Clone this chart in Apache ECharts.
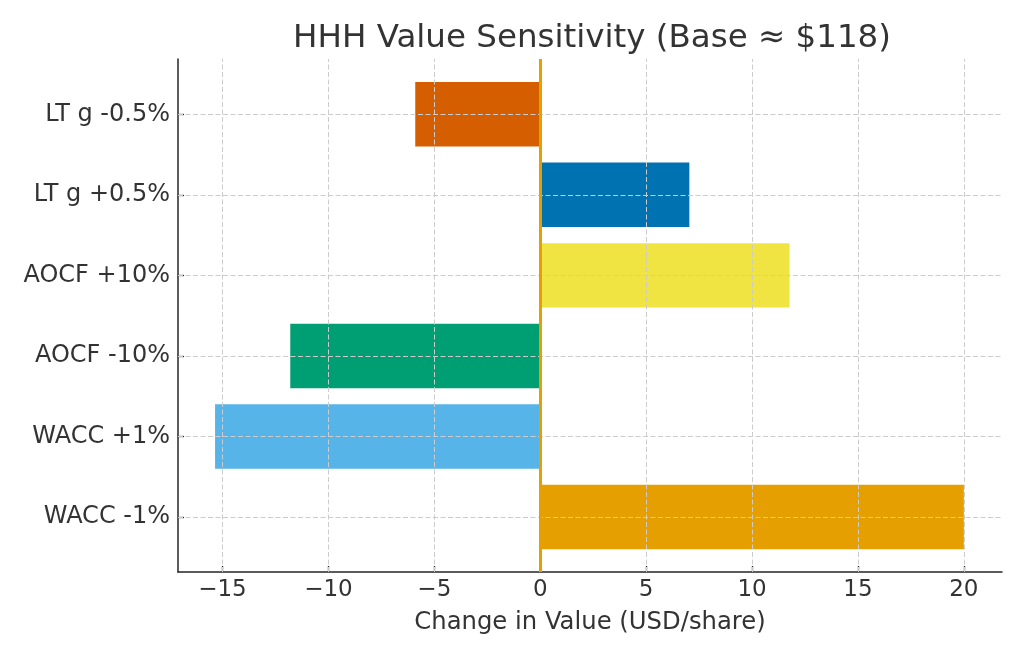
<!DOCTYPE html>
<html>
<head>
<meta charset="utf-8">
<script src="https://cdn.jsdelivr.net/npm/echarts@6/dist/echarts.min.js"></script>
<style>html,body{margin:0;padding:0;background:#fff}#c{width:1024px;height:658px}</style>
</head>
<body>
<div id="c"></div>
<script>
// Data (bottom to top, as drawn)
const categories = ['WACC -1%', 'WACC +1%', 'AOCF -10%', 'AOCF +10%', 'LT g +0.5%', 'LT g -0.5%'];
const changes = [20.0, -15.35, -11.8, 11.77, 7.04, -5.9];
const barColors = ['#E69F00', '#56B4E9', '#009E73', '#F0E442', '#0072B2', '#D55E00'];
const xTicks = [-15, -10, -5, 0, 5, 10, 15, 20];

const FONT = 'DejaVu Sans';
const TXT = '#333333';
const SPINE = '#262626';
const GRIDC = '#cccccc';
const fmt = v => String(v).replace('-', '\u2212');

const chart = echarts.init(document.getElementById('c'), null, {renderer: 'canvas'});
const noLine = {symbol: ['none', 'none'], silent: true, animation: false, label: {show: false}, emphasis: {disabled: true}};

chart.setOption({
  animation: false,
  backgroundColor: '#ffffff',
  title: {
    text: 'HHH Value Sensitivity (Base \u2248 $118)',
    left: 587, top: 17, textAlign: 'center',
    textStyle: {fontFamily: FONT, fontSize: 32.5, fontWeight: 'normal', color: TXT}
  },
  grid: [
    {left: 178, right: 22, top: 59, bottom: 86},
    {left: 178, right: 22, top: 74, bottom: 100.7}
  ],
  xAxis: [
    {
      type: 'value', gridIndex: 0, min: -17.1, max: 21.8,
      axisLine: {show: true, onZero: false, lineStyle: {color: SPINE, width: 1.5}},
      axisTick: {show: true, inside: true, length: 6, customValues: xTicks, lineStyle: {color: SPINE, width: 1.3}},
      axisLabel: {show: true, customValues: xTicks, margin: 7, formatter: fmt, fontFamily: FONT, fontSize: 23, color: TXT},
      splitLine: {show: false},
      name: 'Change in Value (USD/share)', nameLocation: 'middle', nameGap: 38.5,
      nameTextStyle: {fontFamily: FONT, fontSize: 24.3, color: TXT}
    },
    {
      type: 'value', gridIndex: 1, min: -17.1, max: 21.8, show: false
    }
  ],
  yAxis: [
    {
      type: 'value', gridIndex: 0, min: 0, max: 1,
      axisLine: {show: true, onZero: false, lineStyle: {color: SPINE, width: 1.5}},
      axisTick: {show: false}, axisLabel: {show: false}, splitLine: {show: false}
    },
    {
      type: 'category', gridIndex: 1, data: categories,
      axisLine: {show: false, onZero: false},
      axisTick: {show: true, inside: true, length: 6, alignWithLabel: true, lineStyle: {color: SPINE, width: 1.3}},
      axisLabel: {margin: 8, fontFamily: FONT, fontSize: 24, color: TXT},
      splitLine: {show: false}
    }
  ],
  series: [
    {
      type: 'bar', xAxisIndex: 1, yAxisIndex: 1, barWidth: '80%', z: 2,
      data: changes.map((v, i) => ({value: v, itemStyle: {color: barColors[i]}})),
      emphasis: {disabled: true}, silent: true
    },
    {
      type: 'line', xAxisIndex: 1, yAxisIndex: 1, data: [], z: 3,
      markLine: Object.assign({}, noLine, {
        lineStyle: {color: GRIDC, type: [5, 2.5], width: 1},
        data: categories.map(c => ({yAxis: c}))
      })
    },
    {
      type: 'line', xAxisIndex: 0, yAxisIndex: 0, data: [], z: 3,
      markLine: Object.assign({}, noLine, {
        lineStyle: {color: GRIDC, type: [5, 2.5], width: 1},
        data: xTicks.filter(v => v !== 0).map(v => ({xAxis: v}))
      })
    },
    {
      type: 'line', xAxisIndex: 0, yAxisIndex: 0, data: [], z: 5,
      markLine: Object.assign({}, noLine, {
        lineStyle: {color: '#E69F00', type: 'solid', width: 3},
        data: [{xAxis: 0}]
      })
    }
  ]
});
</script>
</body>
</html>
